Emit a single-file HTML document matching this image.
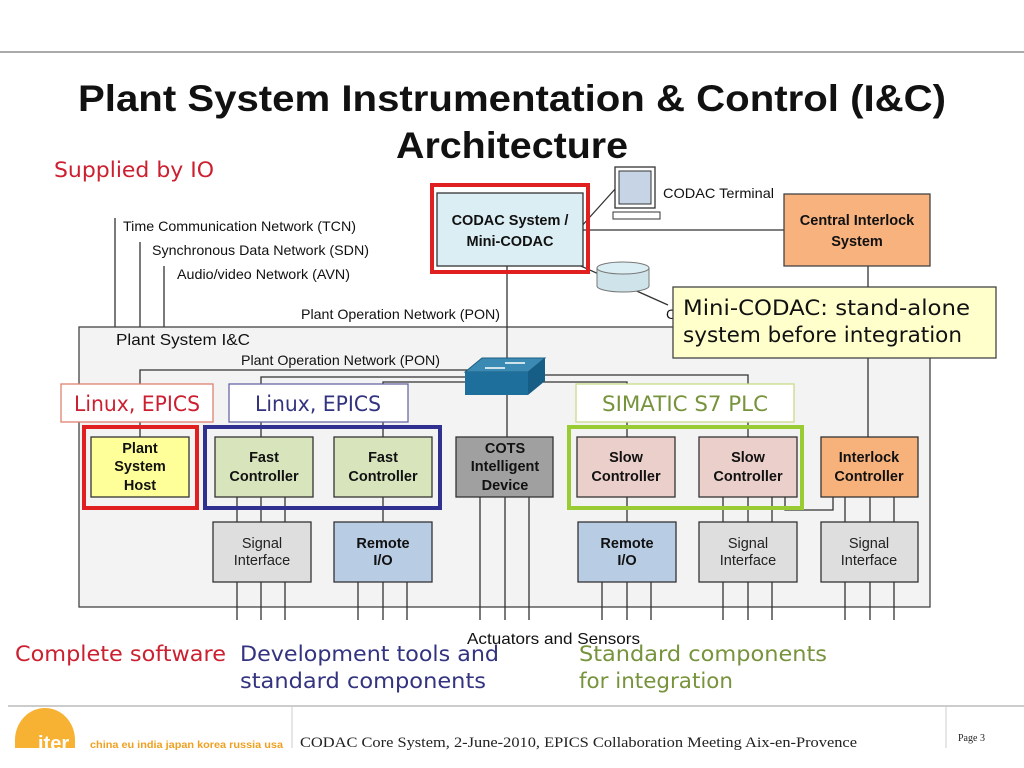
<!DOCTYPE html>
<html><head><meta charset="utf-8"><style>
body{margin:0;background:#fff;}
svg{display:block;font-family:"Liberation Sans",sans-serif;}
.b{font-weight:bold;font-size:14.5px;text-anchor:middle;fill:#111}
.n{font-size:14.5px;text-anchor:middle;fill:#222}
.g{font-family:"DejaVu Sans","Liberation Sans",sans-serif;font-size:21px}
</style></head><body>
<svg width="1024" height="768" viewBox="0 0 1024 768">
<line x1="0" y1="52" x2="1024" y2="52" stroke="#aaa" stroke-width="2"/>
<text x="78" y="111" font-size="37" font-weight="bold" fill="#111" textLength="868" lengthAdjust="spacingAndGlyphs">Plant System  Instrumentation &amp; Control (I&amp;C)</text>
<text x="396" y="158" font-size="37" font-weight="bold" fill="#111" textLength="232" lengthAdjust="spacingAndGlyphs">Architecture</text>
<text x="54" y="177" class="g" fill="#cc2030" textLength="160" lengthAdjust="spacingAndGlyphs">Supplied by IO</text>

<g stroke="#333" stroke-width="1.3" fill="none">
<line x1="115" y1="218" x2="115" y2="327"/>
<line x1="140" y1="242" x2="140" y2="327"/>
<line x1="164" y1="266" x2="164" y2="327"/>
</g>
<text x="123" y="231" font-size="14" fill="#111" textLength="233" lengthAdjust="spacingAndGlyphs">Time Communication Network (TCN)</text>
<text x="152" y="255" font-size="14" fill="#111" textLength="217" lengthAdjust="spacingAndGlyphs">Synchronous Data Network (SDN)</text>
<text x="177" y="279" font-size="14" fill="#111" textLength="173" lengthAdjust="spacingAndGlyphs">Audio/video Network (AVN)</text>
<text x="301" y="319" font-size="14" fill="#111" textLength="199" lengthAdjust="spacingAndGlyphs">Plant Operation Network (PON)</text>

<rect x="79" y="327" width="851" height="280" fill="#f3f3f3" stroke="#444" stroke-width="1.3"/>
<text x="116" y="345" font-size="16" fill="#111" textLength="134" lengthAdjust="spacingAndGlyphs">Plant System I&amp;C</text>
<text x="241" y="365" font-size="14" fill="#111" textLength="199" lengthAdjust="spacingAndGlyphs">Plant Operation Network (PON)</text>

<g stroke="#333" stroke-width="1.3" fill="none">
<line x1="507" y1="266" x2="507" y2="437"/>
<line x1="583" y1="230" x2="784" y2="230"/>
<line x1="868" y1="266" x2="868" y2="437"/>
<polyline points="140,437 140,370 470,370"/>
<polyline points="261,437 261,377 470,377"/>
<polyline points="383,437 383,382 470,382"/>
<polyline points="540,375 748,375 748,437"/>
<polyline points="540,382 627,382 627,437"/>
<line x1="580" y1="228" x2="616" y2="188"/>
<line x1="545" y1="250" x2="668" y2="305"/>
<line x1="237" y1="497" x2="237" y2="620"/><line x1="261" y1="497" x2="261" y2="620"/><line x1="285" y1="497" x2="285" y2="620"/>
<line x1="383" y1="497" x2="383" y2="522"/>
<line x1="358" y1="582" x2="358" y2="620"/><line x1="383" y1="582" x2="383" y2="620"/><line x1="407" y1="582" x2="407" y2="620"/>
<line x1="480" y1="497" x2="480" y2="620"/><line x1="505" y1="497" x2="505" y2="620"/><line x1="529" y1="497" x2="529" y2="620"/>
<line x1="627" y1="497" x2="627" y2="522"/>
<line x1="602" y1="582" x2="602" y2="620"/><line x1="627" y1="582" x2="627" y2="620"/><line x1="651" y1="582" x2="651" y2="620"/>
<line x1="723" y1="497" x2="723" y2="620"/><line x1="748" y1="497" x2="748" y2="620"/><line x1="772" y1="497" x2="772" y2="620"/>
<polyline points="785,497 785,510 833,510 833,497"/>
<line x1="845" y1="497" x2="845" y2="620"/><line x1="870" y1="497" x2="870" y2="620"/><line x1="894" y1="497" x2="894" y2="620"/>
</g>

<rect x="432" y="185" width="156" height="87" fill="none" stroke="#e02020" stroke-width="4"/>
<rect x="437" y="193" width="146" height="73" fill="#dbeef3" stroke="#333" stroke-width="1.3"/>
<text x="510" y="225" class="b" font-size="16.5">CODAC System /</text>
<text x="510" y="246" class="b" font-size="16.5">Mini-CODAC</text>
<rect x="615" y="167" width="40" height="41" fill="#fff" stroke="#333" stroke-width="1.3"/>
<rect x="619" y="171" width="32" height="33" fill="#c6d4e6" stroke="#333"/>
<rect x="613" y="212" width="47" height="7" fill="#fff" stroke="#333"/>
<text x="663" y="198" font-size="14" fill="#111" textLength="111" lengthAdjust="spacingAndGlyphs">CODAC Terminal</text>
<path d="M597 268 v18 a26 6 0 0 0 52 0 v-18" fill="#cfe4ea" stroke="#777"/>
<ellipse cx="623" cy="268" rx="26" ry="6" fill="#dbeef3" stroke="#777"/>
<rect x="784" y="194" width="146" height="72" fill="#f8b27e" stroke="#444" stroke-width="1.3"/>
<text x="857" y="225" class="b" font-size="16.5">Central Interlock</text>
<text x="857" y="246" class="b" font-size="16.5">System</text>
<text x="666" y="319" font-size="14" fill="#111">C</text>
<rect x="673" y="287" width="323" height="71" fill="#ffffcc" stroke="#444" stroke-width="1.3"/>
<text x="683" y="315" class="g" fill="#111" textLength="287" lengthAdjust="spacingAndGlyphs">Mini-CODAC: stand-alone</text>
<text x="683" y="342" class="g" fill="#111" textLength="279" lengthAdjust="spacingAndGlyphs">system before integration</text>

<polygon points="465,372 482,358 545,358 528,372" fill="#3a8ab4" stroke="#1d5f82"/>
<rect x="465" y="372" width="63" height="23" fill="#1f6f9c"/>
<polygon points="528,372 545,358 545,381 528,395" fill="#175e86"/>
<g stroke="#fff" stroke-width="1.5"><line x1="485" y1="368" x2="505" y2="368"/><line x1="505" y1="363" x2="525" y2="363"/></g>

<rect x="61" y="384" width="152" height="38" fill="#fff" stroke="#e08070" stroke-width="1.3"/>
<text x="74" y="411" class="g" fill="#cc2030" textLength="126" lengthAdjust="spacingAndGlyphs">Linux, EPICS</text>
<rect x="229" y="384" width="179" height="38" fill="#fff" stroke="#6868a8" stroke-width="1.3"/>
<text x="255" y="411" class="g" fill="#333380" textLength="126" lengthAdjust="spacingAndGlyphs">Linux, EPICS</text>
<rect x="576" y="384" width="218" height="38" fill="#fff" stroke="#c8dc88" stroke-width="1.3"/>
<text x="602" y="411" class="g" fill="#77933c" textLength="166" lengthAdjust="spacingAndGlyphs">SIMATIC S7 PLC</text>

<rect x="84" y="427" width="113" height="81" fill="none" stroke="#e02020" stroke-width="4"/>
<rect x="205" y="427" width="235" height="81" fill="none" stroke="#303090" stroke-width="4"/>
<rect x="569" y="427" width="233" height="81" fill="none" stroke="#99cc33" stroke-width="4"/>

<g stroke="#333" stroke-width="1.3">
<rect x="91" y="437" width="98" height="60" fill="#ffff99"/>
<rect x="215" y="437" width="98" height="60" fill="#d7e4bc"/>
<rect x="334" y="437" width="98" height="60" fill="#d7e4bc"/>
<rect x="456" y="437" width="97" height="60" fill="#a0a0a0"/>
<rect x="577" y="437" width="98" height="60" fill="#ebcfcb"/>
<rect x="699" y="437" width="98" height="60" fill="#ebcfcb"/>
<rect x="821" y="437" width="97" height="60" fill="#f7b27c"/>
<rect x="213" y="522" width="98" height="60" fill="#dedede"/>
<rect x="334" y="522" width="98" height="60" fill="#b8cce4"/>
<rect x="578" y="522" width="98" height="60" fill="#b8cce4"/>
<rect x="699" y="522" width="98" height="60" fill="#dedede"/>
<rect x="821" y="522" width="97" height="60" fill="#dedede"/>
</g>
<text x="140" y="453" class="b">Plant</text><text x="140" y="471" class="b">System</text><text x="140" y="490" class="b">Host</text>
<text x="264" y="462" class="b">Fast</text><text x="264" y="481" class="b">Controller</text>
<text x="383" y="462" class="b">Fast</text><text x="383" y="481" class="b">Controller</text>
<text x="505" y="453" class="b">COTS</text><text x="505" y="471" class="b">Intelligent</text><text x="505" y="490" class="b">Device</text>
<text x="626" y="462" class="b">Slow</text><text x="626" y="481" class="b">Controller</text>
<text x="748" y="462" class="b">Slow</text><text x="748" y="481" class="b">Controller</text>
<text x="869" y="462" class="b">Interlock</text><text x="869" y="481" class="b">Controller</text>
<text x="262" y="548" class="n">Signal</text><text x="262" y="565" class="n">Interface</text>
<text x="383" y="548" class="b">Remote</text><text x="383" y="565" class="b">I/O</text>
<text x="627" y="548" class="b">Remote</text><text x="627" y="565" class="b">I/O</text>
<text x="748" y="548" class="n">Signal</text><text x="748" y="565" class="n">Interface</text>
<text x="869" y="548" class="n">Signal</text><text x="869" y="565" class="n">Interface</text>

<text x="467" y="644" font-size="16" fill="#111" textLength="173" lengthAdjust="spacingAndGlyphs">Actuators and Sensors</text>
<text x="15" y="661" class="g" fill="#cc2030" textLength="211" lengthAdjust="spacingAndGlyphs">Complete software</text>
<text x="240" y="661" class="g" fill="#333380" textLength="259" lengthAdjust="spacingAndGlyphs">Development tools and</text>
<text x="240" y="688" class="g" fill="#333380" textLength="246" lengthAdjust="spacingAndGlyphs">standard components</text>
<text x="579" y="661" class="g" fill="#77933c" textLength="248" lengthAdjust="spacingAndGlyphs">Standard components</text>
<text x="579" y="688" class="g" fill="#77933c" textLength="154" lengthAdjust="spacingAndGlyphs">for integration</text>

<line x1="8" y1="706" x2="1024" y2="706" stroke="#bbb" stroke-width="1.5"/>
<line x1="292" y1="706" x2="292" y2="748" stroke="#ccc"/>
<line x1="946" y1="706" x2="946" y2="748" stroke="#ccc"/>
<path d="M15 748 L15 740 A30 32 0 0 1 75 740 L75 748 Z" fill="#f7b234"/>
<text x="38" y="750" font-size="20" font-weight="bold" fill="#fff">iter</text>
<text x="90" y="748" font-size="10" font-weight="bold" fill="#f0a020" textLength="193" lengthAdjust="spacingAndGlyphs">china eu india japan korea russia usa</text>
<text x="300" y="747" font-family="Liberation Serif,serif" font-size="15" fill="#222" textLength="557" lengthAdjust="spacingAndGlyphs">CODAC Core System, 2-June-2010, EPICS Collaboration Meeting Aix-en-Provence</text>
<text x="958" y="741" font-family="Liberation Serif,serif" font-size="10" fill="#222">Page 3</text>
</svg>
</body></html>
